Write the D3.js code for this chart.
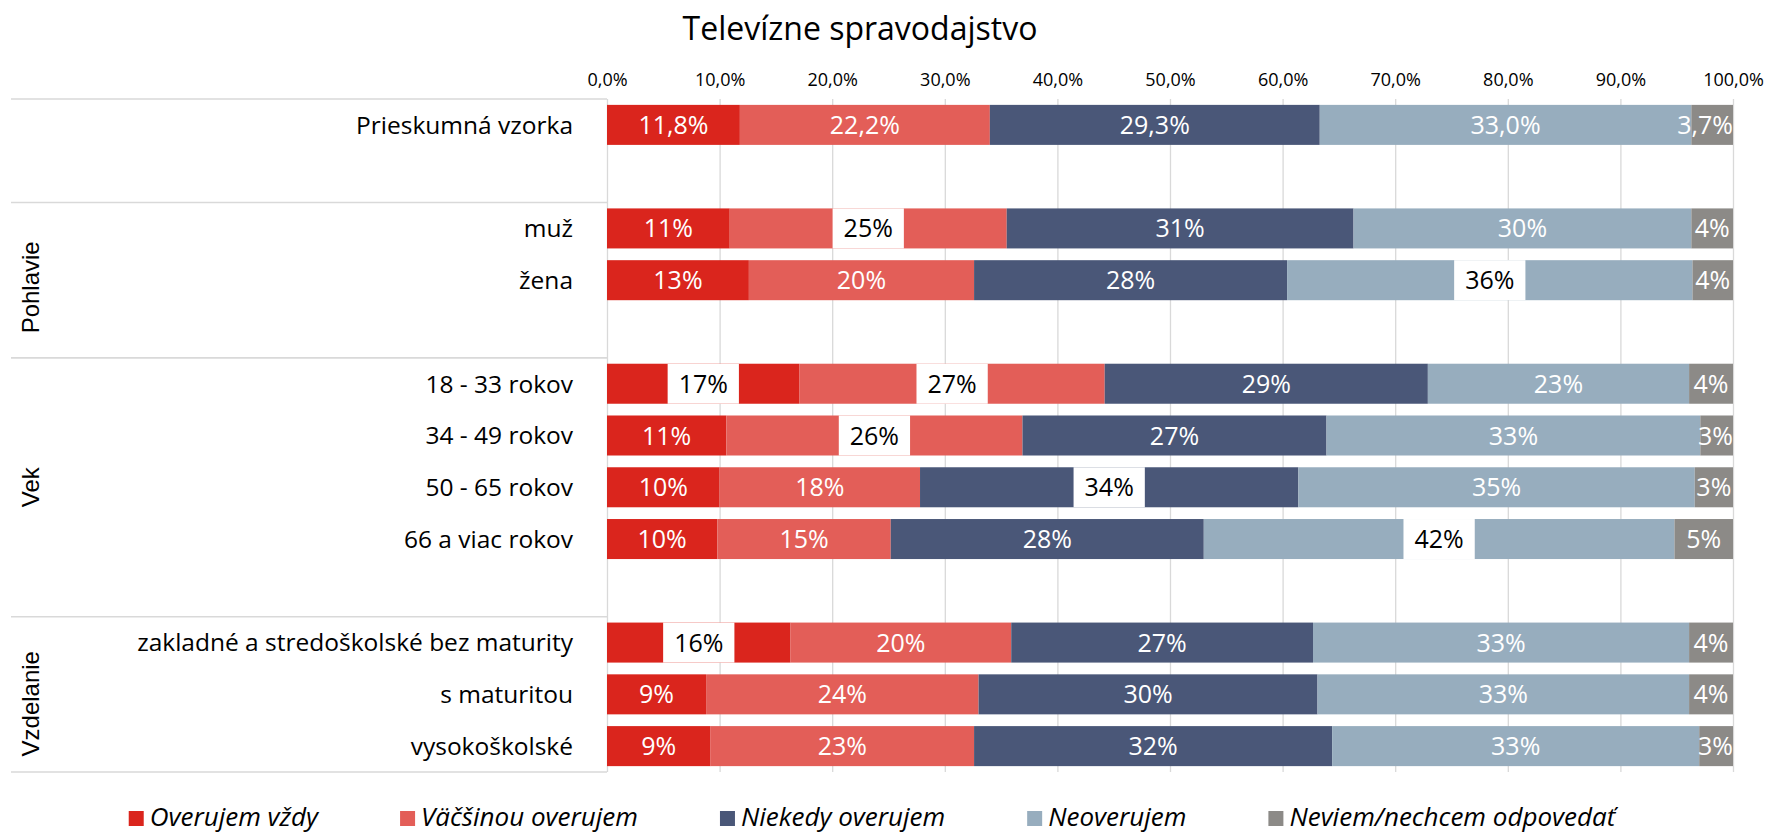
<!DOCTYPE html>
<html>
<head>
<meta charset="utf-8">
<script src="https://cdn.jsdelivr.net/npm/d3@7"></script>
<style>
  html, body { margin: 0; padding: 0; background: #fff; }
  svg { display: block; }
</style>
</head>
<body>
<svg id="chart" width="1776" height="834"></svg>
<script>
// ---- data ----------------------------------------------------------------
const chartTitle = "Televízne spravodajstvo";

// empty strings are the spacer rows between the respondent groups
const categories = [
  "Prieskumná vzorka", "",
  "muž", "žena", "",
  "18 - 33 rokov", "34 - 49 rokov", "50 - 65 rokov", "66 a viac rokov", "",
  "zakladné a stredoškolské bez maturity", "s maturitou", "vysokoškolské"
];

const groupNames = ["", "Pohlavie", "Vek", "Vzdelanie"];
const groupSizes = [2, 3, 5, 3];

const seriesNames = [
  "Overujem vždy", "Väčšinou overujem", "Niekedy overujem",
  "Neoverujem", "Neviem/nechcem odpovedať"
];

// shares in percent, one value per category row
const overujemVzdy = [11.8, null, 10.9, 12.6, null, 17.1, 10.6, 10.0,  9.8, null, 16.3,  8.8,  9.2];
const vacsinouOverujem = [22.2, null, 24.6, 20.0, null, 27.1, 26.3, 17.8, 15.4, null, 19.6, 24.2, 23.4];
const niekedyOverujem = [29.3, null, 30.8, 27.8, null, 28.7, 27.0, 33.6, 27.8, null, 26.8, 30.1, 31.8];
const neoverujem = [33.0, null, 30.0, 36.0, null, 23.2, 33.2, 35.2, 41.8, null, 33.4, 33.0, 32.6];
const neviem = [ 3.7, null,  3.7,  3.6, null,  3.9,  2.9,  3.4,  5.2, null,  3.9,  3.9,  3.0];

const tickValues = [0, 10, 20, 30, 40, 50, 60, 70, 80, 90, 100];

// rows whose labels keep one decimal place
const preciseRows = ["Prieskumná vzorka"];

// labels drawn dark on a white tag
const boxedLabels = [
  ["muž", "Väčšinou overujem"],
  ["žena", "Neoverujem"],
  ["18 - 33 rokov", "Overujem vždy"],
  ["18 - 33 rokov", "Väčšinou overujem"],
  ["34 - 49 rokov", "Väčšinou overujem"],
  ["50 - 65 rokov", "Niekedy overujem"],
  ["66 a viac rokov", "Neoverujem"],
  ["zakladné a stredoškolské bez maturity", "Overujem vždy"]
];

// ---- styling ---------------------------------------------------------------
const palette = ["#DA251D", "#E35E58", "#4A5778", "#97ADBE", "#8C8A87"];
const textFont = "'Open Sans', 'Noto Sans', sans-serif";
const groupFont = "'Liberation Sans', Arial, sans-serif";
const gridColor = "#d9d9d9";

const seriesValues = [overujemVzdy, vacsinouOverujem, niekedyOverujem, neoverujem, neviem];

const locale = d3.formatLocale({ decimal: ",", thousands: " ", grouping: [3], currency: ["", " €"] });
const fmtTick = v => locale.format(".1f")(v) + "%";
const fmtOne = v => locale.format(".1f")(v) + "%";
const fmtInt = v => locale.format(".0f")(v) + "%";

// ---- layout ----------------------------------------------------------------
const svg = d3.select("#chart");
const plot = { left: 607, right: 1733, top: 99, bottom: 772 };
const tableLeft = 11;

const x = d3.scaleLinear().domain([0, 100]).range([plot.left, plot.right]);
const y = d3.scaleBand()
  .domain(d3.range(categories.length))
  .range([plot.top, plot.bottom])
  .paddingInner(0.227)
  .paddingOuter(0.1135);

// row boundary k (0..n) in pixels
const rowEdge = k => y(0) - y.step() * y.paddingOuter() + k * y.step();

// table of rows for stacking
const rows = categories.map((name, i) => {
  const r = { index: i, name };
  seriesNames.forEach((s, j) => { r[s] = seriesValues[j][i]; });
  return r;
});
const filled = rows.filter(r => r.name !== "");

const stack = d3.stack().keys(seriesNames).value((d, k) => d[k] ?? 0);
const stacked = stack(filled);

// ---- title -------------------------------------------------------------------
svg.append("text")
  .attr("x", 860).attr("y", 40)
  .attr("text-anchor", "middle")
  .style("font-family", textFont)
  .style("font-size", "32px")
  .style("fill", "#000")
  .text(chartTitle);

// ---- value axis with gridlines --------------------------------------------------
const axis = svg.append("g")
  .attr("transform", `translate(0,${plot.top})`)
  .call(d3.axisTop(x)
    .tickValues(tickValues)
    .tickSize(-(plot.bottom - plot.top))
    .tickPadding(13)
    .tickFormat(fmtTick));
axis.select(".domain").remove();
axis.selectAll(".tick line").attr("stroke", gridColor).attr("stroke-width", 1.3);
axis.selectAll(".tick text")
  .style("font-family", textFont)
  .style("font-size", "18px")
  .style("fill", "#000");

// ---- category table lines --------------------------------------------------------
const boundaries = [0];
groupSizes.forEach(n => boundaries.push(boundaries[boundaries.length - 1] + n));

svg.append("g").selectAll("line")
  .data(boundaries)
  .join("line")
  .attr("x1", tableLeft).attr("x2", plot.left)
  .attr("y1", d => rowEdge(d)).attr("y2", d => rowEdge(d))
  .attr("stroke", gridColor)
  .attr("stroke-width", 1.6);

// ---- bars ----------------------------------------------------------------------
const barLayer = svg.append("g");
barLayer.selectAll("g")
  .data(stacked)
  .join("g")
  .attr("fill", (d, i) => palette[i])
  .selectAll("rect")
  .data(d => d)
  .join("rect")
  .attr("x", d => x(d[0]))
  .attr("y", d => y(d.data.index))
  .attr("width", d => x(d[1]) - x(d[0]))
  .attr("height", y.bandwidth());

// ---- data labels -----------------------------------------------------------------
const isBoxed = (row, series) => boxedLabels.some(([r, s]) => r === row && s === series);
const labelLayer = svg.append("g");

stacked.forEach(layer => {
  layer.forEach(d => {
    const value = d[1] - d[0];
    if (!value) return;
    const rowName = d.data.name;
    const boxed = isBoxed(rowName, layer.key);
    const text = preciseRows.includes(rowName) ? fmtOne(d.data[layer.key]) : fmtInt(d.data[layer.key]);
    const cy = y(d.data.index) + y.bandwidth() / 2;
    let cx = (x(d[0]) + x(d[1])) / 2;

    const g = labelLayer.append("g");
    const t = g.append("text")
      .attr("text-anchor", "middle")
      .attr("dy", "0.36em")
      .style("font-family", textFont)
      .style("font-size", "25px")
      .style("fill", boxed ? "#000" : "#fff")
      .text(text);
    const w = t.node().getComputedTextLength();
    // keep labels inside the plot area
    if (cx + w / 2 > plot.right) cx = plot.right - w / 2;
    t.attr("x", cx).attr("y", cy);
    if (boxed) {
      g.insert("rect", "text")
        .attr("x", cx - w / 2 - 11)
        .attr("y", y(d.data.index))
        .attr("width", w + 22)
        .attr("height", y.bandwidth())
        .attr("fill", "#fff");
    }
  });
});

// ---- category labels --------------------------------------------------------------
svg.append("g").selectAll("text")
  .data(filled)
  .join("text")
  .attr("x", 573)
  .attr("y", d => y(d.index) + y.bandwidth() / 2)
  .attr("dy", "0.36em")
  .attr("text-anchor", "end")
  .style("font-family", textFont)
  .style("font-size", "24.5px")
  .style("fill", "#000")
  .text(d => d.name);

// ---- group labels (rotated) --------------------------------------------------------
const groupLabels = svg.append("g").selectAll("text")
  .data(groupNames.map((name, i) => ({ name, from: boundaries[i], to: boundaries[i + 1] }))
    .filter(g => g.name !== ""))
  .join("text")
  .attr("text-anchor", "middle")
  .style("font-family", groupFont)
  .style("font-size", "24px")
  .style("fill", "#000")
  .text(g => g.name);
// centred on the group span, nudged down in proportion to the label length
groupLabels.attr("transform", function (g) {
  const len = this.getComputedTextLength();
  const cy = (rowEdge(g.from) + rowEdge(g.to)) / 2 + Math.max(0, len - 50) * 0.17;
  return `translate(39,${cy}) rotate(-90)`;
});

// ---- legend -------------------------------------------------------------------------
const legend = svg.append("g");
const legendCenter = 872;
const swatch = 15, swatchGap = 6, itemGap = 82, legendBaseline = 826;

const items = legend.selectAll("g")
  .data(seriesNames)
  .join("g");
items.append("rect")
  .attr("y", legendBaseline - swatch)
  .attr("width", swatch).attr("height", swatch)
  .attr("fill", (d, i) => palette[i]);
items.append("text")
  .attr("x", swatch + swatchGap)
  .attr("y", legendBaseline)
  .style("font-family", textFont)
  .style("font-style", "italic")
  .style("font-size", "26px")
  .style("fill", "#000")
  .text(d => d);

const widths = items.nodes().map(n => swatch + swatchGap + d3.select(n).select("text").node().getComputedTextLength());
const total = d3.sum(widths) + itemGap * (widths.length - 1);
let cursor = legendCenter - total / 2;
items.attr("transform", (d, i) => {
  const tx = cursor;
  cursor += widths[i] + itemGap;
  return `translate(${tx},0)`;
});
</script>
</body>
</html>
